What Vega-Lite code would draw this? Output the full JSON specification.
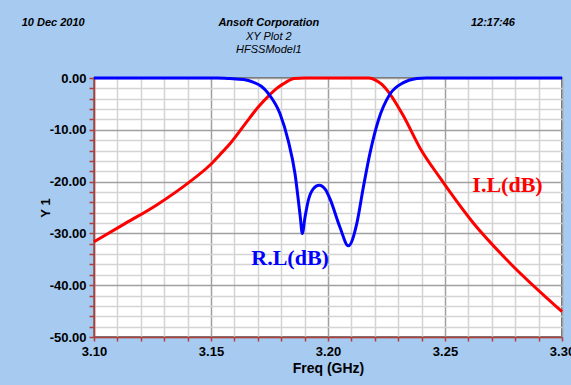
{
  "$schema": "https://vega.github.io/schema/vega-lite/v6.json",
  "width": 468,
  "height": 259,
  "autosize": {"type": "none"},
  "padding": {"left": 94, "top": 78, "right": 9, "bottom": 48},
  "background": "#A6CAF0",
  "config": {
    "view": {"fill": "white", "stroke": "#707070", "strokeWidth": 2},
    "font": "Liberation Sans"
  },
  "datasets": {
    "curves": [
      {"s": "I.L", "f": 3.100, "db": -31.6},
      {"s": "I.L", "f": 3.1125, "db": -28.3},
      {"s": "I.L", "f": 3.1268, "db": -24.5},
      {"s": "I.L", "f": 3.141, "db": -20.0},
      {"s": "I.L", "f": 3.1496, "db": -16.8},
      {"s": "I.L", "f": 3.1538, "db": -14.8},
      {"s": "I.L", "f": 3.1581, "db": -12.7},
      {"s": "I.L", "f": 3.1667, "db": -7.6},
      {"s": "I.L", "f": 3.1700, "db": -5.7},
      {"s": "I.L", "f": 3.1752, "db": -3.2},
      {"s": "I.L", "f": 3.1781, "db": -2.0},
      {"s": "I.L", "f": 3.1810, "db": -1.1},
      {"s": "I.L", "f": 3.1832, "db": -0.5},
      {"s": "I.L", "f": 3.1855, "db": -0.1},
      {"s": "I.L", "f": 3.190, "db": 0},
      {"s": "I.L", "f": 3.200, "db": 0},
      {"s": "I.L", "f": 3.210, "db": 0},
      {"s": "I.L", "f": 3.2175, "db": 0},
      {"s": "I.L", "f": 3.2203, "db": -0.4},
      {"s": "I.L", "f": 3.2229, "db": -1.2},
      {"s": "I.L", "f": 3.2265, "db": -3.1},
      {"s": "I.L", "f": 3.2322, "db": -7.3},
      {"s": "I.L", "f": 3.2393, "db": -13.5},
      {"s": "I.L", "f": 3.2479, "db": -19.3},
      {"s": "I.L", "f": 3.2521, "db": -22.0},
      {"s": "I.L", "f": 3.2621, "db": -28.0},
      {"s": "I.L", "f": 3.2764, "db": -35.1},
      {"s": "I.L", "f": 3.300, "db": -45.1},
      {"s": "R.L", "f": 3.100, "db": 0},
      {"s": "R.L", "f": 3.150, "db": 0},
      {"s": "R.L", "f": 3.1526, "db": 0},
      {"s": "R.L", "f": 3.158, "db": -0.1},
      {"s": "R.L", "f": 3.164, "db": -0.3},
      {"s": "R.L", "f": 3.168, "db": -0.8},
      {"s": "R.L", "f": 3.1715, "db": -1.6},
      {"s": "R.L", "f": 3.1745, "db": -3.0},
      {"s": "R.L", "f": 3.1795, "db": -6.9},
      {"s": "R.L", "f": 3.1830, "db": -12.1},
      {"s": "R.L", "f": 3.1859, "db": -18.5},
      {"s": "R.L", "f": 3.1873, "db": -23.5},
      {"s": "R.L", "f": 3.1882, "db": -27.0},
      {"s": "R.L", "f": 3.1890, "db": -30.0},
      {"s": "R.L", "f": 3.1902, "db": -26.8},
      {"s": "R.L", "f": 3.1916, "db": -23.6},
      {"s": "R.L", "f": 3.1937, "db": -21.4},
      {"s": "R.L", "f": 3.1962, "db": -20.7},
      {"s": "R.L", "f": 3.1990, "db": -21.6},
      {"s": "R.L", "f": 3.2009, "db": -23.4},
      {"s": "R.L", "f": 3.2051, "db": -28.8},
      {"s": "R.L", "f": 3.2087, "db": -32.4},
      {"s": "R.L", "f": 3.2123, "db": -28.1},
      {"s": "R.L", "f": 3.2151, "db": -21.1},
      {"s": "R.L", "f": 3.2179, "db": -14.6},
      {"s": "R.L", "f": 3.2215, "db": -8.2},
      {"s": "R.L", "f": 3.2265, "db": -3.1},
      {"s": "R.L", "f": 3.2322, "db": -0.9},
      {"s": "R.L", "f": 3.2379, "db": -0.1},
      {"s": "R.L", "f": 3.2420, "db": 0},
      {"s": "R.L", "f": 3.300, "db": 0}
    ],
    "labels": [
      {"s": "R.L", "f": 3.1838, "db": -34.7, "t": "R.L(dB)"},
      {"s": "I.L", "f": 3.2767, "db": -20.66, "t": "I.L(dB)"}
    ]
  },
  "layer": [
    {
      "data": {"name": "curves"},
      "mark": {"type": "line", "interpolate": "monotone", "strokeWidth": 3, "clip": false},
      "encoding": {
        "x": {
          "field": "f",
          "type": "quantitative",
          "scale": {"domain": [3.10, 3.30], "nice": false, "zero": false},
          "axis": {
            "title": "Freq (GHz)",
            "values": [3.10, 3.11, 3.12, 3.13, 3.14, 3.15, 3.16, 3.17, 3.18, 3.19, 3.20, 3.21, 3.22, 3.23, 3.24, 3.25, 3.26, 3.27, 3.28, 3.29, 3.30],
            "tickCount": 100,
            "labelExpr": "round(datum.value*100) % 5 === 0 ? format(datum.value, '.2f') : ''",
            "labelFlush": false,
            "labelOverlap": false,
            "labelFont": "Liberation Sans",
            "labelFontSize": 13,
            "labelFontWeight": "bold",
            "labelColor": "#000000",
            "labelPadding": 4,
            "tickSize": 4,
            "tickColor": "#B04040",
            "tickWidth": 1.5,
            "domainColor": "#B04040",
            "domainWidth": 1.5,
            "grid": true,
            "gridColor": {"condition": {"test": "round(datum.value*100) % 5 === 0", "value": "#A0A0A0"}, "value": "#D4D4D4"},
            "gridWidth": 1.5,
            "titleFont": "Liberation Sans",
            "titleFontSize": 14,
            "titleFontWeight": "bold",
            "titleColor": "#000000",
            "titlePadding": 3
          }
        },
        "y": {
          "field": "db",
          "type": "quantitative",
          "scale": {"domain": [-50, 0], "nice": false, "zero": false},
          "axis": {
            "title": "Y 1",
            "values": [-50, -48, -46, -44, -42, -40, -38, -36, -34, -32, -30, -28, -26, -24, -22, -20, -18, -16, -14, -12, -10, -8, -6, -4, -2, 0],
            "tickCount": 100,
            "labelExpr": "datum.value % 10 === 0 ? (datum.value < 0 ? '-' : '') + format(abs(datum.value), '.2f') : ''",
            "labelOverlap": false,
            "labelFont": "Liberation Sans",
            "labelFontSize": 13,
            "labelFontWeight": "bold",
            "labelColor": "#000000",
            "labelPadding": 3,
            "tickSize": 5,
            "tickColor": "#B04040",
            "tickWidth": 1.5,
            "domainColor": "#B04040",
            "domainWidth": 1.5,
            "grid": true,
            "gridColor": {"condition": {"test": "datum.value % 10 === 0", "value": "#A0A0A0"}, "value": "#D4D4D4"},
            "gridWidth": 1.5,
            "titleFont": "Liberation Sans",
            "titleFontSize": 13,
            "titleFontWeight": "bold",
            "titleColor": "#000000",
            "titleX": -49,
            "titleBaseline": "middle"
          }
        },
        "color": {
          "field": "s",
          "type": "nominal",
          "scale": {"domain": ["I.L", "R.L"], "range": ["#FF0000", "#0000FF"]},
          "legend": null
        }
      }
    },
    {
      "data": {"name": "labels"},
      "mark": {"type": "text", "font": "Liberation Serif", "fontWeight": "bold", "fontSize": 22, "clip": false},
      "encoding": {
        "x": {"field": "f", "type": "quantitative", "scale": {"domain": [3.10, 3.30], "nice": false, "zero": false}},
        "y": {"field": "db", "type": "quantitative", "scale": {"domain": [-50, 0], "nice": false, "zero": false}},
        "text": {"field": "t"},
        "color": {"field": "s", "type": "nominal", "scale": {"domain": ["I.L", "R.L"], "range": ["#FF0000", "#0000FF"]}, "legend": null}
      }
    },
    {
      "data": {"values": [{}]},
      "mark": {"type": "text", "font": "Liberation Sans", "fontWeight": "bold", "fontStyle": "italic", "fontSize": 11, "align": "left", "color": "#000000", "clip": false},
      "encoding": {
        "x": {"datum": 3.0691, "type": "quantitative", "scale": {"domain": [3.10, 3.30], "nice": false, "zero": false}},
        "y": {"datum": 10.56, "type": "quantitative", "scale": {"domain": [-50, 0], "nice": false, "zero": false}},
        "text": {"value": "10 Dec 2010"}
      }
    },
    {
      "data": {"values": [{}]},
      "mark": {"type": "text", "font": "Liberation Sans", "fontWeight": "bold", "fontStyle": "italic", "fontSize": 11, "align": "right", "color": "#000000", "clip": false},
      "encoding": {
        "x": {"datum": 3.2799, "type": "quantitative", "scale": {"domain": [3.10, 3.30], "nice": false, "zero": false}},
        "y": {"datum": 10.56, "type": "quantitative", "scale": {"domain": [-50, 0], "nice": false, "zero": false}},
        "text": {"value": "12:17:46"}
      }
    },
    {
      "data": {"values": [{}]},
      "mark": {"type": "text", "font": "Liberation Sans", "fontWeight": "bold", "fontStyle": "italic", "fontSize": 11, "align": "center", "color": "#000000", "clip": false},
      "encoding": {
        "x": {"datum": 3.1747, "type": "quantitative", "scale": {"domain": [3.10, 3.30], "nice": false, "zero": false}},
        "y": {"datum": 10.56, "type": "quantitative", "scale": {"domain": [-50, 0], "nice": false, "zero": false}},
        "text": {"value": "Ansoft Corporation"}
      }
    },
    {
      "data": {"values": [{}]},
      "mark": {"type": "text", "font": "Liberation Sans", "fontStyle": "italic", "fontSize": 11, "align": "center", "color": "#000000", "clip": false},
      "encoding": {
        "x": {"datum": 3.1747, "type": "quantitative", "scale": {"domain": [3.10, 3.30], "nice": false, "zero": false}},
        "y": {"datum": 7.97, "type": "quantitative", "scale": {"domain": [-50, 0], "nice": false, "zero": false}},
        "text": {"value": "XY Plot 2"}
      }
    },
    {
      "data": {"values": [{}]},
      "mark": {"type": "text", "font": "Liberation Sans", "fontStyle": "italic", "fontSize": 11, "align": "center", "color": "#000000", "clip": false},
      "encoding": {
        "x": {"datum": 3.1747, "type": "quantitative", "scale": {"domain": [3.10, 3.30], "nice": false, "zero": false}},
        "y": {"datum": 5.41, "type": "quantitative", "scale": {"domain": [-50, 0], "nice": false, "zero": false}},
        "text": {"value": "HFSSModel1"}
      }
    }
  ]
}
